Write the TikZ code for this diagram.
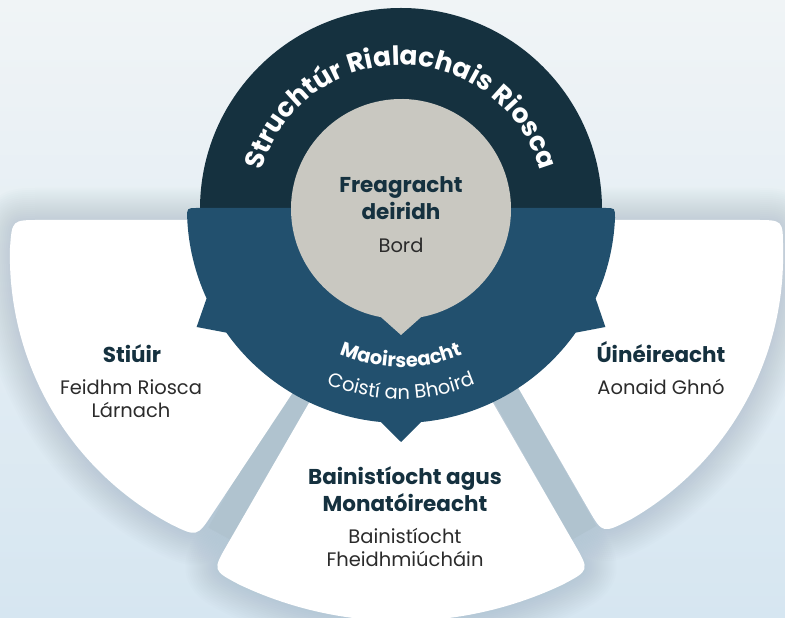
\documentclass[tikz,border=0pt]{standalone}
\usepackage{fontspec}
\setmainfont{Poppins}
\usetikzlibrary{positioning,decorations.text}

\definecolor{navy}{HTML}{15313F}
\definecolor{band}{HTML}{22506E}
\definecolor{stone}{HTML}{C9C8C1}
\definecolor{ink}{HTML}{2B2B2B}
\definecolor{barcol}{HTML}{B0C3CF}
\definecolor{halocol}{HTML}{8AA3B4}
\definecolor{bgtop}{HTML}{F0F4F6}
\definecolor{bgbot}{HTML}{D6E6F1}

% the three white cards
\newcommand{\cardleft}[1]{\path[#1] (400,398) -- (40,398) .. controls (12,398) .. (10,370)
  arc[start angle=178.5, end angle=242, radius=304] .. controls (197,81) .. (212.5,104.4) -- (378,354) -- cycle;}
\newcommand{\cardright}[1]{\path[#1] (402,398) -- (755,398) .. controls (783,398) .. (783,370)
  arc[start angle=1.5, end angle=-60, radius=304] .. controls (602.6,84.2) .. (588.6,108.4) -- (438.6,368.2) -- cycle;}
\newcommand{\cardbottom}[1]{\path[#1] (328,248) -- (227.4,73.6) .. controls (212.4,47.6) .. (239.3,33.4)
  arc[start angle=-115.4, end angle=-64.6, radius=377] .. controls (589.6,47.6) .. (574.6,73.6) -- (474,248) -- cycle;}
\newcommand{\titlefont}{\bfseries\fontsize{26.5}{26.5}\selectfont}
\newcommand{\bandfont}{\fontsize{19.5}{19.5}\selectfont}

\begin{document}
\begin{tikzpicture}[x=1pt,y=1pt,
  head/.style={font=\bfseries\fontsize{21.5}{27}\selectfont, text=navy, align=center, anchor=base, inner sep=0pt},
  sub/.style={font=\fontsize{19.5}{23.5}\selectfont, text=ink, align=center, anchor=base, inner sep=0pt},
  halo/.style={draw=halocol, line join=round, opacity=0.025, line width=#1},
  bar/.style={draw=barcol, line width=28pt},
  arctext/.style={decorate, decoration={text along path, text align=center, text color=white, text={#1}}}]
\useasboundingbox (0,0) rectangle (785,618);
\shade[top color=bgtop, bottom color=bgbot] (0,0) rectangle (785,618);
\coordinate (C) at (401,409);

% soft shadows, gaps, cards
\foreach \w in {4,8,...,64} {
  \cardleft{halo=\w pt}
  \cardright{halo=\w pt}
  \cardbottom{halo=\w pt}
}
\draw[bar] (C) -- ++(-119:372);
\draw[bar] (C) -- ++(-60.5:372);
\cardleft{fill=white}
\cardright{fill=white}
\cardbottom{fill=white}

% centre rings
\begin{scope}[shift={(C)}]
\fill[navy] (-201,-5) -- (-201,0) arc[start angle=180, end angle=0, radius=201] -- (201,-5) -- cycle;
\fill[band] (-204,1) -- (204,1) .. controls (214,1) .. (214,-9)
  arc[start angle=-2.4, end angle=-24.7, radius=214] -- (-30:236) -- (-35.3:214)
  arc[start angle=-35.3, end angle=-84.6, radius=214] -- (0,-233) -- (-95.4:214)
  arc[start angle=-95.4, end angle=-144.7, radius=214] -- (-150:236) -- (-155.3:214)
  arc[start angle=-155.3, end angle=-177.6, radius=214] .. controls (-214,1) .. (-204,1) -- cycle;
\fill[stone] (-79.5:110) arc[start angle=-79.5, end angle=259.5, radius=110] -- (0,-126) -- cycle;
\end{scope}

% curved labels
\path[arctext={|\titlefont|Struchtúr Rialachais Riosca}] ([shift={(176:144)}]C) arc[start angle=176, end angle=4, radius=144];
\path[arctext={|\bfseries\bandfont|Maoirseacht}] ([shift={(205:158)}]C) arc[start angle=205, end angle=335, radius=158];
\path[arctext={|\bandfont|Coistí an Bhoird}] ([shift={(210:190)}]C) arc[start angle=210, end angle=330, radius=190];

% texts (base = last line)
\node[head] (fre) at (401,398) {Freagracht\\deiridh};
\node[sub] (bord) at (401,365) {Bord};
\node[head] (sti) at (132,255) {Stiúir};
\node[sub] (feid) at (131,200) {Feidhm Riosca\\Lárnach};
\node[head] (uin) at (661,255) {Úinéireacht};
\node[sub] (aon) at (661,223) {Aonaid Ghnó};
\node[head] (bain) at (405,106) {Bainistíocht agus\\Monatóireacht};
\node[sub] (bfe) at (405,51) {Bainistíocht\\Fheidhmiúcháin};
\end{tikzpicture}
\end{document}
